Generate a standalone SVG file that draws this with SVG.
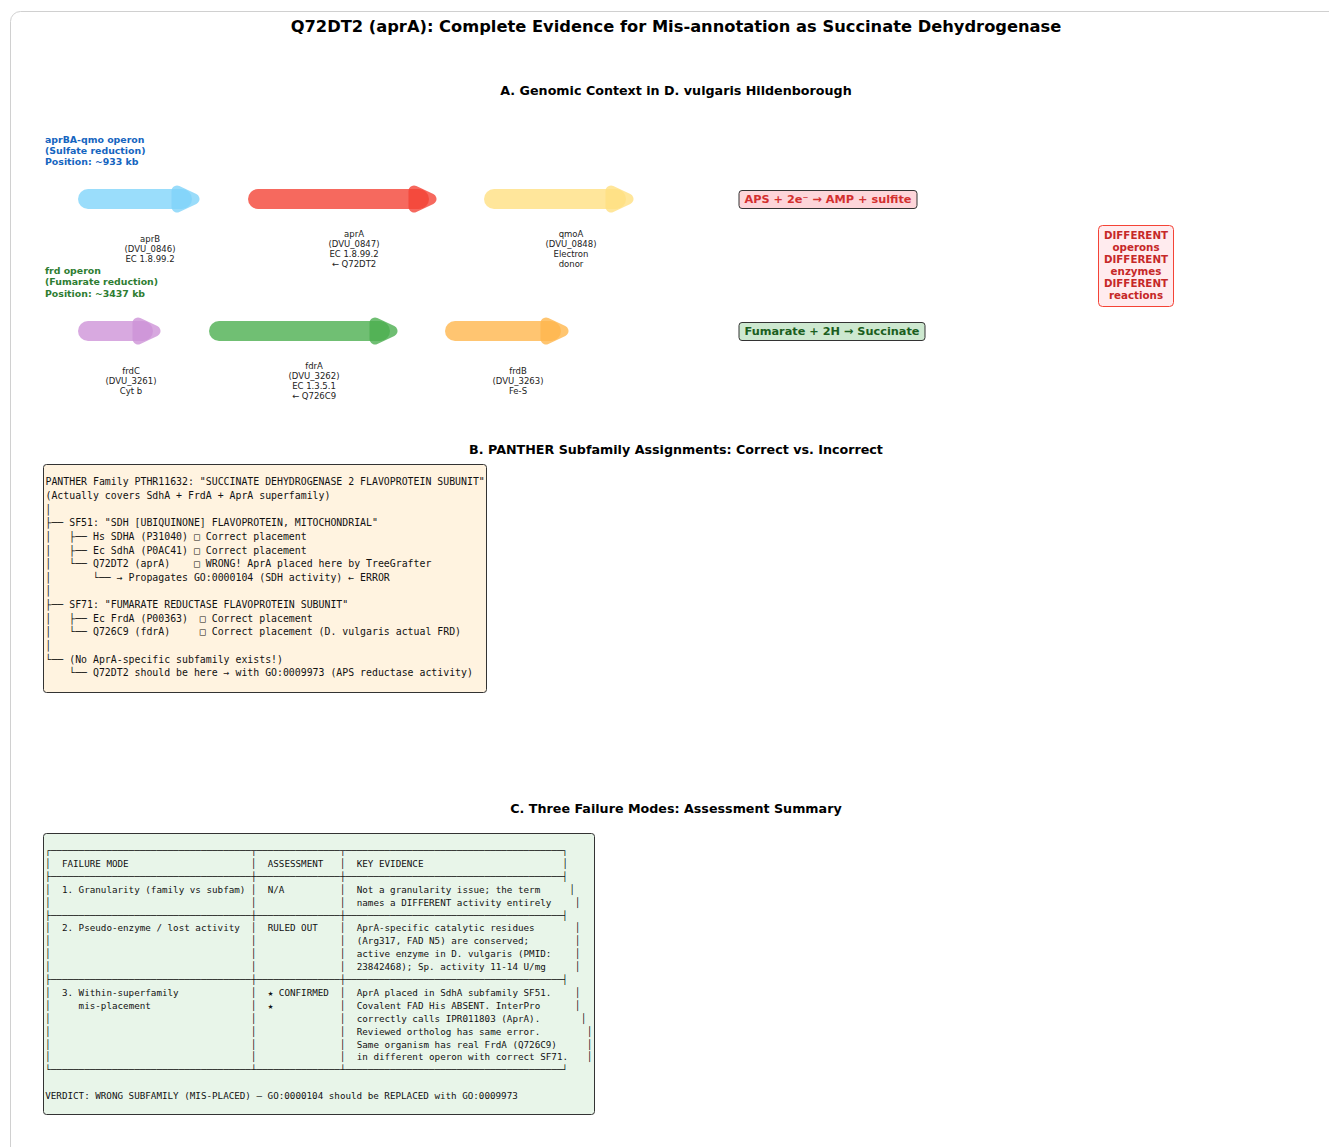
<svg xmlns="http://www.w3.org/2000/svg" width="1329" height="1147" viewBox="0 0 1329 1147" xml:space="preserve">
<style>
.t{font-family:"DejaVu Sans","Liberation Sans",sans-serif}
.title{font-size:16.3px;font-weight:bold;fill:#000;text-anchor:middle}
.sec{font-size:12.7px;font-weight:bold;fill:#000;text-anchor:middle}
.gl{font-size:8.5px;fill:#222;text-anchor:middle}
.op{font-size:9.4px;font-weight:bold}
.rx{font-size:11.3px;font-weight:bold;text-anchor:middle}
.mono{font-family:"DejaVu Sans Mono","Liberation Mono",monospace;fill:#111}
.mb{font-size:9.87px}
.mc{font-size:9.24px}
.body{stroke-width:20;stroke-linecap:round;fill:none;opacity:0.8}
.head{stroke-width:11;stroke-linejoin:round;opacity:0.8}
</style>
<rect x="0" y="0" width="1329" height="1147" fill="#fff"/>
<rect x="10.5" y="11.5" width="1340" height="1160" rx="10" fill="#fff" stroke="#d0d0d0"/>
<text class="t title" x="676" y="32">Q72DT2 (aprA): Complete Evidence for Mis-annotation as Succinate Dehydrogenase</text>
<text class="t sec" x="676" y="94.5">A. Genomic Context in D. vulgaris Hildenborough</text>
<text class="t sec" x="676" y="453.5">B. PANTHER Subfamily Assignments: Correct vs. Incorrect</text>
<text class="t sec" x="676" y="812.5">C. Three Failure Modes: Assessment Summary</text>

<g id="operon-apr-label" class="t op" fill="#1565C0">
<text x="45" y="142.5">aprBA-qmo operon</text>
<text x="45" y="153.5">(Sulfate reduction)</text>
<text x="45" y="164.5">Position: ~933 kb</text>
</g>
<g id="operon-frd-label" class="t op" fill="#2E7D32">
<text x="45" y="273.5">frd operon</text>
<text x="45" y="285">(Fumarate reduction)</text>
<text x="45" y="296.5">Position: ~3437 kb</text>
</g>

<g id="gene-aprB">
<line class="body" x1="88" y1="199" x2="182" y2="199" stroke="#81D4FA"/>
<polygon class="head" points="177,191 194,199 177,207" fill="#81D4FA" stroke="#81D4FA"/>
<text class="t gl" x="150" y="242">aprB</text>
<text class="t gl" x="150" y="252">(DVU_0846)</text>
<text class="t gl" x="150" y="262">EC 1.8.99.2</text>
</g>
<g id="gene-aprA">
<line class="body" x1="258" y1="199" x2="419" y2="199" stroke="#F44336"/>
<polygon class="head" points="414,191 431,199 414,207" fill="#F44336" stroke="#F44336"/>
<text class="t gl" x="354" y="237">aprA</text>
<text class="t gl" x="354" y="247">(DVU_0847)</text>
<text class="t gl" x="354" y="257">EC 1.8.99.2</text>
<text class="t gl" x="354" y="267">← Q72DT2</text>
</g>
<g id="gene-qmoA">
<line class="body" x1="494" y1="199" x2="616" y2="199" stroke="#FFE082"/>
<polygon class="head" points="611,191 628,199 611,207" fill="#FFE082" stroke="#FFE082"/>
<text class="t gl" x="571" y="237">qmoA</text>
<text class="t gl" x="571" y="247">(DVU_0848)</text>
<text class="t gl" x="571" y="257">Electron</text>
<text class="t gl" x="571" y="267">donor</text>
</g>
<g id="gene-frdC">
<line class="body" x1="88" y1="331" x2="143" y2="331" stroke="#CE93D8"/>
<polygon class="head" points="138,323 155,331 138,339" fill="#CE93D8" stroke="#CE93D8"/>
<text class="t gl" x="131" y="374">frdC</text>
<text class="t gl" x="131" y="384">(DVU_3261)</text>
<text class="t gl" x="131" y="394">Cyt b</text>
</g>
<g id="gene-fdrA">
<line class="body" x1="219" y1="331" x2="380" y2="331" stroke="#4CAF50"/>
<polygon class="head" points="375,323 392,331 375,339" fill="#4CAF50" stroke="#4CAF50"/>
<text class="t gl" x="314" y="369">fdrA</text>
<text class="t gl" x="314" y="379">(DVU_3262)</text>
<text class="t gl" x="314" y="389">EC 1.3.5.1</text>
<text class="t gl" x="314" y="399">← Q726C9</text>
</g>
<g id="gene-frdB">
<line class="body" x1="455" y1="331" x2="551" y2="331" stroke="#FFB74D"/>
<polygon class="head" points="546,323 563,331 546,339" fill="#FFB74D" stroke="#FFB74D"/>
<text class="t gl" x="518" y="374">frdB</text>
<text class="t gl" x="518" y="384">(DVU_3263)</text>
<text class="t gl" x="518" y="394">Fe-S</text>
</g>

<g id="reaction-aps">
<rect x="739" y="190.5" width="178" height="18" rx="3" fill="#FDD5D9" stroke="#333" stroke-width="1"/>
<text class="t rx" x="828" y="203" fill="#D32F2F">APS + 2e⁻ → AMP + sulfite</text>
</g>
<g id="reaction-fumarate">
<rect x="739" y="322.5" width="186" height="18" rx="3" fill="#CDE8CF" stroke="#333" stroke-width="1"/>
<text class="t rx" x="832" y="335" fill="#1B5E20">Fumarate + 2H → Succinate</text>
</g>
<g id="different-note" class="t" font-size="10.3px" font-weight="bold" fill="#C62828" text-anchor="middle">
<rect x="1098.5" y="225.5" width="75" height="81" rx="4" fill="#FFEBEE" stroke="#F44336" stroke-width="1"/>
<text x="1136" y="238.5">DIFFERENT</text>
<text x="1136" y="250.5">operons</text>
<text x="1136" y="262.5">DIFFERENT</text>
<text x="1136" y="274.5">enzymes</text>
<text x="1136" y="286.5">DIFFERENT</text>
<text x="1136" y="298.5">reactions</text>
</g>

<g id="panther-tree">
<rect x="43.5" y="464.5" width="443" height="228" rx="3" fill="#FFF3E0" stroke="#333" stroke-width="1"/>
<g class="mono mb">
<text xml:space="preserve" x="45.5" y="485.3">PANTHER Family PTHR11632: "SUCCINATE DEHYDROGENASE 2 FLAVOPROTEIN SUBUNIT"</text>
<text xml:space="preserve" x="45.5" y="498.9">(Actually covers SdhA + FrdA + AprA superfamily)</text>
<text xml:space="preserve" x="45.5" y="512.6">│</text>
<text xml:space="preserve" x="45.5" y="526.2">├── SF51: "SDH [UBIQUINONE] FLAVOPROTEIN, MITOCHONDRIAL"</text>
<text xml:space="preserve" x="45.5" y="539.9">│&#160;&#160;&#160;├── Hs SDHA (P31040) □ Correct placement</text>
<text xml:space="preserve" x="45.5" y="553.5">│&#160;&#160;&#160;├── Ec SdhA (P0AC41) □ Correct placement</text>
<text xml:space="preserve" x="45.5" y="567.1">│&#160;&#160;&#160;└── Q72DT2 (aprA)&#160;&#160;&#160;&#160;□ WRONG! AprA placed here by TreeGrafter</text>
<text xml:space="preserve" x="45.5" y="580.8">│&#160;&#160;&#160;&#160;&#160;&#160;&#160;└── → Propagates GO:0000104 (SDH activity) ← ERROR</text>
<text xml:space="preserve" x="45.5" y="594.4">│</text>
<text xml:space="preserve" x="45.5" y="608.1">├── SF71: "FUMARATE REDUCTASE FLAVOPROTEIN SUBUNIT"</text>
<text xml:space="preserve" x="45.5" y="621.7">│&#160;&#160;&#160;├── Ec FrdA (P00363)&#160;&#160;□ Correct placement</text>
<text xml:space="preserve" x="45.5" y="635.3">│&#160;&#160;&#160;└── Q726C9 (fdrA)&#160;&#160;&#160;&#160;&#160;□ Correct placement (D. vulgaris actual FRD)</text>
<text xml:space="preserve" x="45.5" y="649">│</text>
<text xml:space="preserve" x="45.5" y="662.6">└── (No AprA-specific subfamily exists!)</text>
<text xml:space="preserve" x="45.5" y="676.3">&#160;&#160;&#160;&#160;└── Q72DT2 should be here → with GO:0009973 (APS reductase activity)</text>
</g>
</g>

<g id="failure-table">
<rect x="43.5" y="833.5" width="551" height="281" rx="3" fill="#E8F5E9" stroke="#333" stroke-width="1"/>
<g class="mono mc">
<text x="45.22" y="854">┌────────────────────────────────────┬───────────────┬───────────────────────────────────────┐</text>
<text y="866.9"><tspan x="45.22">│</tspan><tspan x="61.91">FAILURE MODE</tspan><tspan x="251.05">│</tspan><tspan x="267.74">ASSESSMENT</tspan><tspan x="340.06">│</tspan><tspan x="356.75">KEY EVIDENCE</tspan><tspan x="562.58">│</tspan></text>
<text x="45.22" y="879.8">├────────────────────────────────────┼───────────────┼───────────────────────────────────────┤</text>
<text y="892.7"><tspan x="45.22">│</tspan><tspan x="61.91">1. Granularity (family vs subfam)</tspan><tspan x="251.05">│</tspan><tspan x="267.74">N/A</tspan><tspan x="340.06">│</tspan><tspan x="356.75">Not a granularity issue; the term</tspan><tspan x="569.5">│</tspan></text>
<text y="905.6"><tspan x="45.22">│</tspan><tspan x="251.05">│</tspan><tspan x="340.06">│</tspan><tspan x="356.75">names a DIFFERENT activity entirely</tspan><tspan x="575">│</tspan></text>
<text x="45.22" y="918.5">├────────────────────────────────────┼───────────────┼───────────────────────────────────────┤</text>
<text y="931.4"><tspan x="45.22">│</tspan><tspan x="61.91">2. Pseudo-enzyme / lost activity</tspan><tspan x="251.05">│</tspan><tspan x="267.74">RULED OUT</tspan><tspan x="340.06">│</tspan><tspan x="356.75">AprA-specific catalytic residues</tspan><tspan x="575">│</tspan></text>
<text y="944.3"><tspan x="45.22">│</tspan><tspan x="251.05">│</tspan><tspan x="340.06">│</tspan><tspan x="356.75">(Arg317, FAD N5) are conserved;</tspan><tspan x="575">│</tspan></text>
<text y="957.2"><tspan x="45.22">│</tspan><tspan x="251.05">│</tspan><tspan x="340.06">│</tspan><tspan x="356.75">active enzyme in D. vulgaris (PMID:</tspan><tspan x="575">│</tspan></text>
<text y="970.1"><tspan x="45.22">│</tspan><tspan x="251.05">│</tspan><tspan x="340.06">│</tspan><tspan x="356.75">23842468); Sp. activity 11-14 U/mg</tspan><tspan x="575">│</tspan></text>
<text x="45.22" y="983">├────────────────────────────────────┼───────────────┼───────────────────────────────────────┤</text>
<text y="995.9"><tspan x="45.22">│</tspan><tspan x="61.91">3. Within-superfamily</tspan><tspan x="251.05">│</tspan><tspan x="267.74">★ CONFIRMED</tspan><tspan x="340.06">│</tspan><tspan x="356.75">AprA placed in SdhA subfamily SF51.</tspan><tspan x="575">│</tspan></text>
<text y="1008.8"><tspan x="45.22">│</tspan><tspan x="78.6">mis-placement</tspan><tspan x="251.05">│</tspan><tspan x="267.74">★</tspan><tspan x="340.06">│</tspan><tspan x="356.75">Covalent FAD His ABSENT. InterPro</tspan><tspan x="575">│</tspan></text>
<text y="1021.7"><tspan x="45.22">│</tspan><tspan x="251.05">│</tspan><tspan x="340.06">│</tspan><tspan x="356.75">correctly calls IPR011803 (AprA).</tspan><tspan x="581">│</tspan></text>
<text y="1034.6"><tspan x="45.22">│</tspan><tspan x="251.05">│</tspan><tspan x="340.06">│</tspan><tspan x="356.75">Reviewed ortholog has same error.</tspan><tspan x="587">│</tspan></text>
<text y="1047.5"><tspan x="45.22">│</tspan><tspan x="251.05">│</tspan><tspan x="340.06">│</tspan><tspan x="356.75">Same organism has real FrdA (Q726C9)</tspan><tspan x="587">│</tspan></text>
<text y="1060.4"><tspan x="45.22">│</tspan><tspan x="251.05">│</tspan><tspan x="340.06">│</tspan><tspan x="356.75">in different operon with correct SF71.</tspan><tspan x="587">│</tspan></text>
<text x="45.22" y="1073.3">└────────────────────────────────────┴───────────────┴───────────────────────────────────────┘</text>
<text x="45.22" y="1099">VERDICT: WRONG SUBFAMILY (MIS-PLACED) — GO:0000104 should be REPLACED with GO:0009973</text>
</g>
</g>
</svg>
